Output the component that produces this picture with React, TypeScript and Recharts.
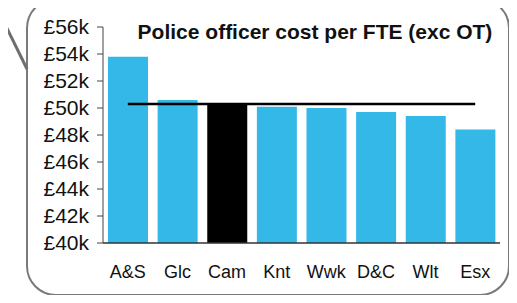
import { ComposedChart, Bar, Line, XAxis, YAxis, Cell } from "recharts";

const forces = ["A&S", "Glc", "Cam", "Knt", "Wwk", "D&C", "Wlt", "Esx"];
const costPerFte = [53.8, 50.6, 50.3, 50.1, 50.0, 49.7, 49.4, 48.4];
const averageCost = [50.3, 50.3, 50.3, 50.3, 50.3, 50.3, 50.3, 50.3];
const yTicks = [40, 42, 44, 46, 48, 50, 52, 54, 56];
const highlight = "Cam";

const FONT = "'Liberation Sans', Arial, sans-serif";

export default function App() {
  const chartData = forces.map((name, i) => ({
    name,
    cost: costPerFte[i],
    avg: averageCost[i],
  }));

  return (
    <div style={{ position: "relative", width: 517, height: 303, margin: -8, fontFamily: FONT, background: "#fff" }}>
      {/* callout frame */}
      <div
        style={{
          position: "absolute",
          left: 26,
          top: -2,
          width: 484,
          height: 298,
          border: "2.5px solid #7a7a7a",
          borderRadius: 30,
          boxSizing: "border-box",
        }}
      />
      <svg width={40} height={80} style={{ position: "absolute", left: 0, top: 0 }}>
        <line x1={-1} y1={12} x2={27} y2={69} stroke="#6e6e6e" strokeWidth={3} />
      </svg>

      <ComposedChart
        width={517}
        height={303}
        data={chartData}
        margin={{ top: 27, right: 17, bottom: 20, left: 0 }}
        barCategoryGap="10%"
        style={{ position: "absolute", left: 0, top: 0 }}
      >
        <XAxis
          dataKey="name"
          tickLine={false}
          axisLine={{ stroke: "#333", strokeWidth: 1.5 }}
          tick={{ fontSize: 18, fill: "#111", fontFamily: FONT }}
          tickMargin={16}
          height={40}
          interval={0}
        />
        <YAxis
          domain={[40, 56]}
          ticks={yTicks}
          width={103}
          tickFormatter={(v) => `£${v}k`}
          tick={{ fontSize: 21, fill: "#111", fontFamily: FONT }}
          tickSize={6}
          tickMargin={8}
          axisLine={{ stroke: "#444" }}
          tickLine={{ stroke: "#444" }}
          interval={0}
        />
        <Bar dataKey="cost" barSize={40} isAnimationActive={false}>
          {chartData.map((d, i) => (
            <Cell key={i} fill={d.name === highlight ? "#000" : "#33b8e8"} />
          ))}
        </Bar>
        <Line
          dataKey="avg"
          stroke="#000"
          strokeWidth={2.5}
          dot={false}
          isAnimationActive={false}
        />
      </ComposedChart>

      <div
        style={{
          position: "absolute",
          left: 115,
          width: 400,
          top: 20,
          textAlign: "center",
          fontWeight: "bold",
          fontSize: 21,
          color: "#111",
          whiteSpace: "nowrap",
        }}
      >
        Police officer cost per FTE (exc OT)
      </div>
    </div>
  );
}
